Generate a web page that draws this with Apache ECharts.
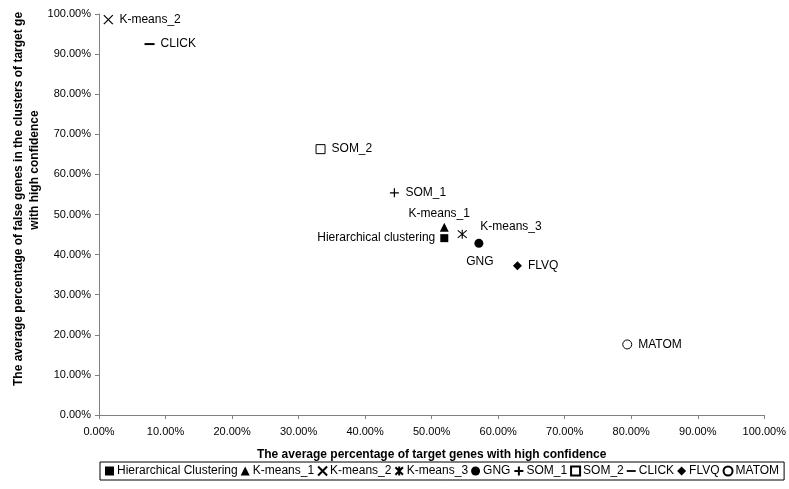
<!DOCTYPE html>
<html>
<head>
<meta charset="utf-8">
<script src="https://cdn.jsdelivr.net/npm/echarts@6/dist/echarts.min.js"></script>
<style>html,body{margin:0;padding:0;background:#fff}#c{width:789px;height:489px}</style>
</head>
<body>
<div id="c"></div>
<script>
// Data: [x = avg % of target genes with high confidence, y = avg % of false genes]
const methodNames = ['Hierarchical Clustering','K-means_1','K-means_2','K-means_3','GNG','SOM_1','SOM_2','CLICK','FLVQ','MATOM'];
const pointLabels = ['Hierarchical clustering','K-means_1','K-means_2','K-means_3','GNG','SOM_1','SOM_2','CLICK','FLVQ','MATOM'];
const xValues = [51.9, 51.9, 1.4, 54.6, 57.1, 44.4, 33.3, 7.6, 62.9, 79.4];
const yValues = [44.1, 46.8, 98.6, 45.1, 42.8, 55.4, 66.3, 92.5, 37.2, 17.6];
const axisTicks = [0,10,20,30,40,50,60,70,80,90,100];

const FONT = 'Liberation Sans, Arial, sans-serif';
const styles = [
  {symbol:'rect', size:8, fill:'#000', label:{position:'left', distance:5}},
  {symbol:'triangle', size:9, fill:'#000', label:{position:'top', distance:3, offset:[-5,0]}},
  {symbol:'path://M0 0 L10 10 M10 0 L0 10', size:9, fill:'#000', stroke:1.2, label:{position:'right', distance:6}},
  {symbol:'path://M0 0 L10 10 M10 0 L0 10 M5 -1 L5 11', size:9, fill:'#000', stroke:1.1, label:{position:'right', distance:5, offset:[8,-7]}},
  {symbol:'circle', size:9, fill:'#000', label:{position:'bottom', distance:5, offset:[1,3]}},
  {symbol:'path://M0 5 L10 5 M5 0 L5 10', size:9, fill:'#000', stroke:1.2, label:{position:'right', distance:6}},
  {symbol:'rect', size:9, fill:'#fff', stroke:1, label:{position:'right', distance:6}},
  {symbol:'path://M0 0 L10 0 L10 2 L0 2 Z', size:10, fill:'#000', keep:true, label:{position:'right', distance:6}},
  {symbol:'diamond', size:9, fill:'#000', label:{position:'right', distance:6}},
  {symbol:'circle', size:9, fill:'#fff', stroke:1, label:{position:'right', distance:6}}
];

const series = methodNames.map((n, i) => {
  const s = styles[i];
  return {
    name: n,
    type: 'scatter',
    symbol: s.symbol,
    symbolSize: s.size,
    symbolKeepAspect: !!s.keep,
    itemStyle: {color: s.fill, borderColor: '#000', borderWidth: s.stroke || 0, opacity: 1},
    label: Object.assign({show: true, color: '#000', fontFamily: FONT, fontSize: 12,
      formatter: () => pointLabels[i]}, s.label),
    emphasis: {disabled: true},
    data: [[xValues[i], yValues[i]]]
  };
});

const chart = echarts.init(document.getElementById('c'), null, {renderer: 'canvas'});
const axisCommon = {
  type: 'value', min: 0, max: 100, interval: 10,
  axisLine: {show: true, lineStyle: {color: '#808080', width: 1}},
  axisTick: {show: true, length: 4, lineStyle: {color: '#808080'}},
  splitLine: {show: false},
  axisLabel: {color: '#000', fontFamily: FONT, fontSize: 11, formatter: v => v.toFixed(2) + '%'}
};
chart.setOption({
  animation: false,
  backgroundColor: '#fff',
  grid: {left: 99, right: 22, top: 14, bottom: 74, containLabel: false},
  xAxis: Object.assign({}, axisCommon, {
    axisLabel: Object.assign({}, axisCommon.axisLabel, {margin: 11}),
    name: 'The average percentage of target genes with high confidence',
    nameLocation: 'middle', nameGap: 34,
    nameTextStyle: {color: '#000', fontFamily: FONT, fontSize: 12, fontWeight: 'bold'}
  }),
  yAxis: Object.assign({}, axisCommon, {
    axisLabel: Object.assign({}, axisCommon.axisLabel, {margin: 8})
  }),
  graphic: [{
    type: 'text', x: 19, y: 386, rotation: Math.PI / 2,
    style: {
      text: 'The average percentage of false genes in the clusters of target ge',
      fill: '#000', font: 'bold 12px ' + FONT, align: 'left', verticalAlign: 'middle'
    }
  }, {
    type: 'text', x: 35, y: 170, rotation: Math.PI / 2,
    style: {
      text: 'with high confidence',
      fill: '#000', font: 'bold 12px ' + FONT, align: 'center', verticalAlign: 'middle'
    }
  }],
  legend: {
    left: 100, top: 462, width: 720,
    data: methodNames,
    itemWidth: 9, itemHeight: 9, itemGap: 3,
    padding: [3, 5],
    borderColor: '#000', borderWidth: 1,
    textStyle: {color: '#000', fontFamily: FONT, fontSize: 12, padding: [0, 0, 0, -2]},
    selectedMode: false
  },
  series: series
});
</script>
</body>
</html>
